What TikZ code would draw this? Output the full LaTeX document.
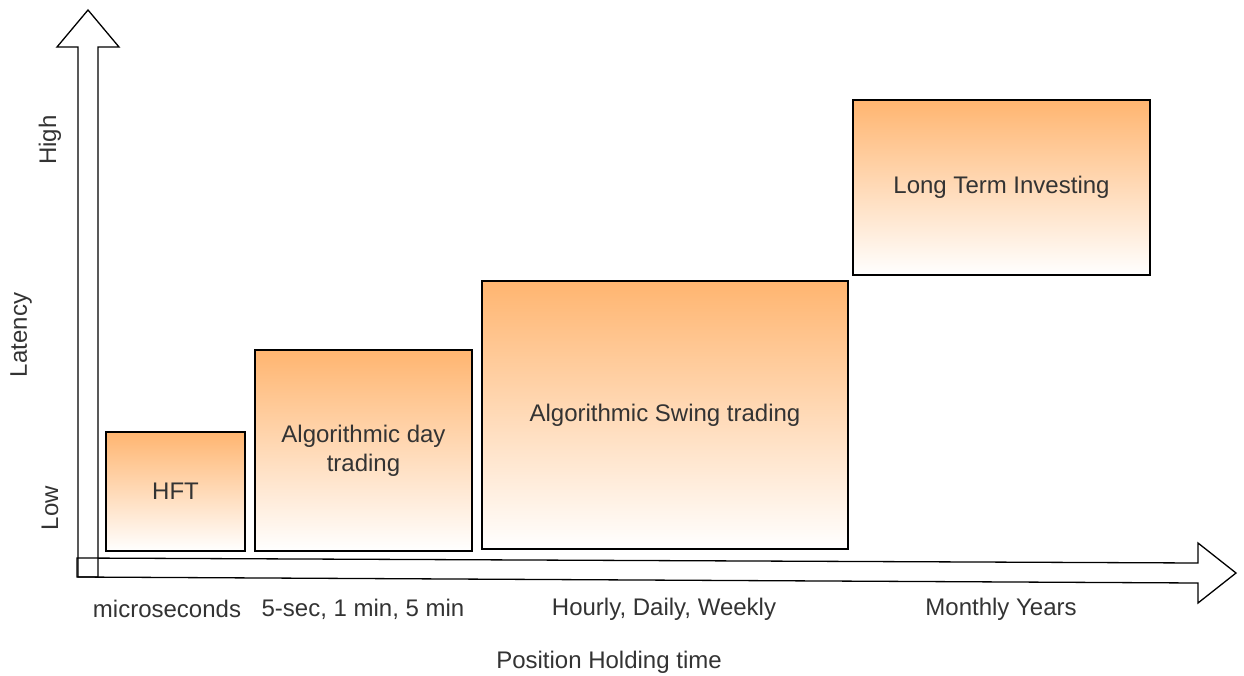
\documentclass[tikz,border=0pt]{standalone}
\usepackage{fontspec}
\setmainfont{Liberation Sans}
\definecolor{boxtop}{HTML}{FFB570}
\definecolor{txt}{HTML}{333333}
\begin{document}
\begin{tikzpicture}[x=1pt,y=-1pt,
  box/.style={draw=black, line width=1.6pt, top color=boxtop, bottom color=white,
    rectangle, inner sep=0pt, align=center, text=txt, font=\fontsize{24}{29}\selectfont},
  lbl/.style={text=txt, font=\fontsize{24}{29}\selectfont, inner sep=0pt},
  axis/.style={draw=black, line width=1.3pt, line join=miter}]
\useasboundingbox (0,0) rectangle (1244,676);
% vertical axis arrow
\draw[axis] (78,577) -- (78,47) -- (57,47) -- (88,10) -- (119,47) -- (98,47) -- (98,577) -- cycle;
% horizontal axis arrow
\draw[axis] (77,558) -- (1198,563) -- (1198,543) -- (1236,573) -- (1198,603) -- (1198,583) -- (77,577) -- cycle;
% boxes
\node[box, minimum width=139pt, minimum height=119pt] (hft) at (175.5,491.5) {HFT};
\node[box, minimum width=217pt, minimum height=201pt] (day) at (363.5,450.5) {Algorithmic day\\trading};
\node[box, minimum width=366pt, minimum height=268pt] (swing) at (665,415) {Algorithmic Swing trading};
\node[box, minimum width=297pt, minimum height=175pt] (lti) at (1001.5,187.5) {Long Term Investing};
% axis labels
\node[lbl] (l1) at (167,609) {microseconds};
\node[lbl] (l2) at (363,609) {5-sec, 1 min, 5 min};
\node[lbl] (l3) at (664,609) {Hourly, Daily, Weekly};
\node[lbl] (l4) at (1001,609) {Monthly Years};
\node[lbl] (xt) at (609,662) {Position Holding time};
\node[lbl, rotate=90] (hi) at (50,140) {High};
\node[lbl, rotate=90] (yt) at (21,335) {Latency};
\node[lbl, rotate=90] (lo) at (50,508) {Low};
\end{tikzpicture}
\end{document}
